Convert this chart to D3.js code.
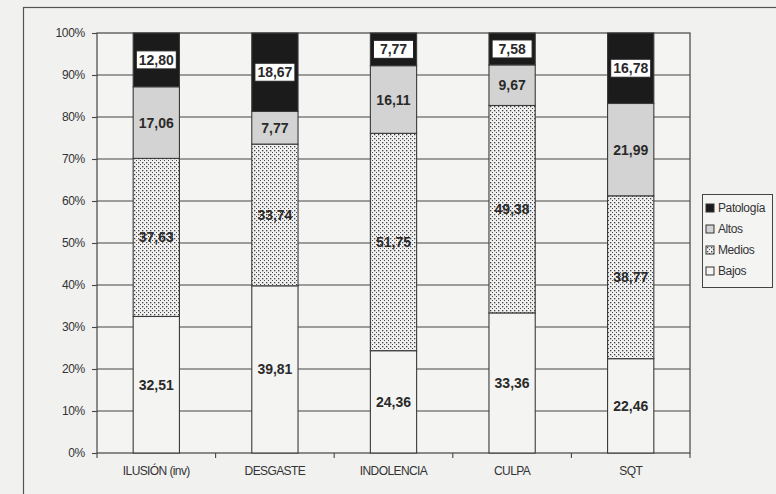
<!DOCTYPE html>
<html>
<head>
<meta charset="utf-8">
<script src="https://cdn.jsdelivr.net/npm/d3@7"></script>
<style>
  body { margin: 0; background: #f1f1f0; }
  svg { display: block; font-family: "Liberation Sans", Arial, sans-serif; }
</style>
</head>
<body>
<svg id="chart" width="776" height="494"></svg>
<script>
var categories = ["ILUSIÓN (inv)", "DESGASTE", "INDOLENCIA", "CULPA", "SQT"];
var seriesNames = ["Bajos", "Medios", "Altos", "Patología"];
var bajos     = [32.51, 39.81, 24.36, 33.36, 22.46];
var medios    = [37.63, 33.74, 51.75, 49.38, 38.77];
var altos     = [17.06,  7.77, 16.11,  9.67, 21.99];
var patologia = [12.80, 18.67,  7.77,  7.58, 16.78];
var yTicks = [0, 10, 20, 30, 40, 50, 60, 70, 80, 90, 100];

var rows = categories.map(function(c, i) {
  return { cat: c, "Bajos": bajos[i], "Medios": medios[i], "Altos": altos[i], "Patología": patologia[i] };
});

var svg = d3.select("#chart"),
  margin = { top: 33, left: 97 },
  width = 593,
  height = 420;

// chart frame (scanned page border)
svg.append("rect")
  .attr("x", 23.5).attr("y", 7.5)
  .attr("width", 800).attr("height", 520)
  .attr("fill", "#f1f1f0")
  .attr("stroke", "#555").attr("stroke-width", 1.2);

var defs = svg.append("defs");
var dots = defs.append("pattern")
  .attr("id", "dots").attr("patternUnits", "userSpaceOnUse")
  .attr("width", 4).attr("height", 4);
dots.append("rect").attr("width", 4).attr("height", 4).attr("fill", "#f0f0f0");
dots.append("rect").attr("x", 1).attr("y", 1).attr("width", 1.3).attr("height", 1.3).attr("fill", "#444");
dots.append("rect").attr("x", 3).attr("y", 3).attr("width", 1.3).attr("height", 1.3).attr("fill", "#444");

var fills = { "Bajos": "#f4f4f3", "Medios": "url(#dots)", "Altos": "#d3d3d3", "Patología": "#1b1b1b" };

var g = svg.append("g").attr("transform", "translate(" + margin.left + "," + margin.top + ")");

var x = d3.scaleBand().domain(categories).range([0, width]).padding(0);
var y = d3.scaleLinear().domain([0, 100]).range([height, 0]);
var barW = x.bandwidth() * 0.39;

// plot area
g.append("rect").attr("width", width).attr("height", height)
  .attr("fill", "#f4f4f3").attr("stroke", "#444").attr("stroke-width", 1.2);

g.append("g").selectAll("line").data(yTicks.slice(1, -1)).join("line")
  .attr("x1", 0).attr("x2", width)
  .attr("y1", function(d) { return y(d); }).attr("y2", function(d) { return y(d); })
  .attr("stroke", "#444").attr("stroke-width", 1.1);

var stack = d3.stack().keys(seriesNames)(rows);

var layers = g.append("g").selectAll("g").data(stack).join("g")
  .attr("fill", function(d) { return fills[d.key]; });

layers.selectAll("rect").data(function(d) { return d; }).join("rect")
  .attr("x", function(d) { return x(d.data.cat) + (x.bandwidth() - barW) / 2; })
  .attr("width", barW)
  .attr("y", function(d) { return y(d[1]); })
  .attr("height", function(d) { return y(d[0]) - y(d[1]); })
  .attr("stroke", "#3a3a3a").attr("stroke-width", 1.1);

// value labels
stack.forEach(function(layer) {
  layer.forEach(function(d) {
    var cx = x(d.data.cat) + x.bandwidth() / 2,
      cy = y((d[0] + d[1]) / 2),
      txt = d3.format(".2f")(d[1] - d[0]).replace(".", ",");
    if (layer.key === "Patología") {
      g.append("rect")
        .attr("x", cx - 20).attr("y", cy - 9)
        .attr("width", 40).attr("height", 18)
        .attr("fill", "#fff").attr("stroke", "#222").attr("stroke-width", 1);
    }
    g.append("text")
      .attr("x", cx).attr("y", cy).attr("dy", "0.36em")
      .attr("text-anchor", "middle")
      .attr("font-size", 14).attr("font-weight", "bold")
      .attr("fill", "#2a2a2a")
      .text(txt);
  });
});

// y axis
var yAxis = g.append("g")
  .call(d3.axisLeft(y).tickValues(yTicks).tickSize(5).tickFormat(function(d) { return d + "%"; }));
yAxis.select(".domain").remove();
yAxis.selectAll("line").attr("stroke", "#444").attr("stroke-width", 1.1);
yAxis.selectAll("text").attr("font-size", 12).attr("fill", "#333").attr("x", -12)
  .attr("letter-spacing", "-0.3px")
  .style("font-family", "Liberation Sans, Arial, sans-serif");

// x axis: ticks between categories
var xAxisG = g.append("g").attr("transform", "translate(0," + height + ")");
xAxisG.selectAll("line").data(d3.range(categories.length + 1)).join("line")
  .attr("x1", function(i) { return i * x.step(); }).attr("x2", function(i) { return i * x.step(); })
  .attr("y1", 0).attr("y2", 5)
  .attr("stroke", "#444").attr("stroke-width", 1.1);
xAxisG.selectAll("text").data(categories).join("text")
  .attr("x", function(d) { return x(d) + x.bandwidth() / 2; })
  .attr("y", 22)
  .attr("text-anchor", "middle")
  .attr("font-size", 12).attr("letter-spacing", "-0.6px")
  .attr("fill", "#333")
  .text(function(d) { return d; });

// legend
var legend = svg.append("g").attr("transform", "translate(702,194)");
legend.append("rect").attr("x", 0.5).attr("y", 0.5).attr("width", 70).attr("height", 93)
  .attr("fill", "#f4f4f3").attr("stroke", "#444");
seriesNames.slice().reverse().forEach(function(k, i) {
  var row = legend.append("g").attr("transform", "translate(4," + (14 + i * 21) + ")");
  row.append("rect").attr("x", 0).attr("y", -4).attr("width", 8).attr("height", 8)
    .attr("fill", fills[k]).attr("stroke", "#333");
  row.append("text").attr("x", 12).attr("dy", "0.35em")
    .attr("font-size", 12).attr("fill", "#333").attr("letter-spacing", "-0.4px")
    .text(k);
});
</script>
</body>
</html>
